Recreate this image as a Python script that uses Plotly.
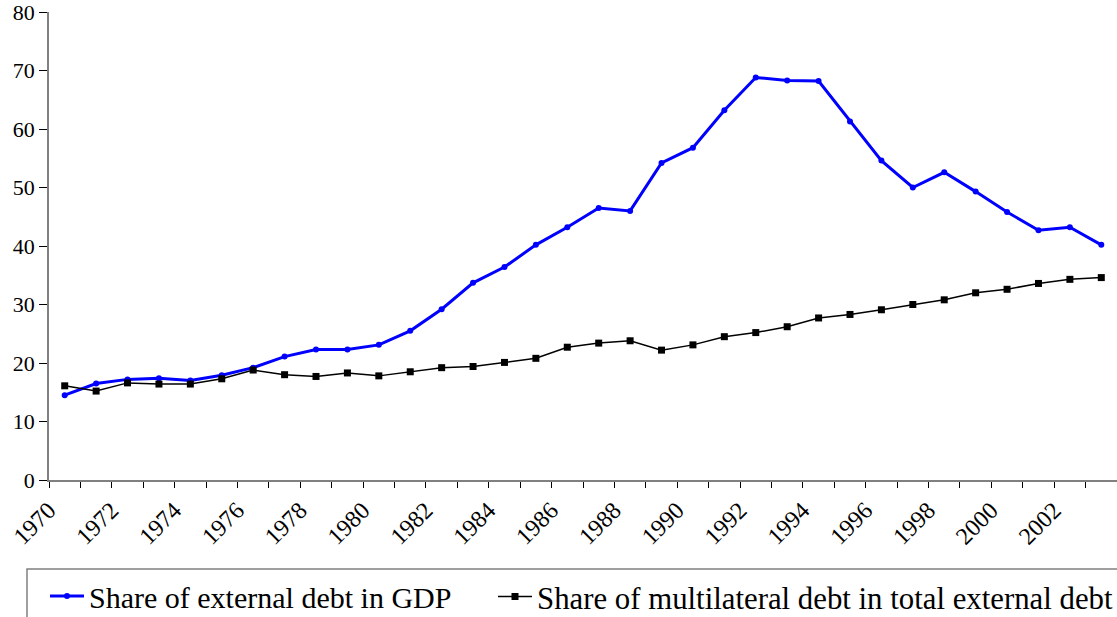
import plotly.graph_objects as go

years = list(range(1970, 2004))
ext_debt_gdp = [14.5, 16.5, 17.2, 17.4, 17.0, 17.9, 19.2, 21.1, 22.3, 22.3, 23.1,
                25.5, 29.2, 33.7, 36.4, 40.2, 43.2, 46.5, 46.0, 54.2, 56.8,
                63.2, 68.8, 68.3, 68.2, 61.3, 54.6, 50.0, 52.6, 49.3, 45.8,
                42.7, 43.2, 40.2]
multi_share = [16.1, 15.2, 16.6, 16.4, 16.4, 17.3, 18.8, 18.0, 17.7, 18.3, 17.8,
               18.5, 19.2, 19.4, 20.1, 20.8, 22.7, 23.4, 23.8, 22.2, 23.1,
               24.5, 25.2, 26.2, 27.7, 28.3, 29.1, 30.0, 30.8, 32.0, 32.6,
               33.6, 34.3, 34.6]
label_years = list(range(1970, 2004, 2))
name1 = "Share of external debt in GDP"
name2 = "Share of multilateral debt in total external debt"

W, H = 1117, 617
L, R, T, B = 49, 0, 12, 137
pw, ph = W - L - R, H - T - B
SERIF = "Liberation Serif, Times New Roman, DejaVu Serif, serif"


def px_x(p):
    return (p - L) / pw


def px_y(p):
    return (T + ph - p) / ph


fig = go.Figure()
fig.add_trace(go.Scatter(x=years, y=ext_debt_gdp, name=name1, mode="lines+markers",
                         line=dict(color="#0000FF", width=3),
                         marker=dict(symbol="circle", size=6, color="#0000FF"),
                         legend="legend"))
fig.add_trace(go.Scatter(x=years, y=multi_share, name=name2, mode="lines+markers",
                         line=dict(color="#000000", width=1.5),
                         marker=dict(symbol="square", size=7, color="#000000"),
                         legend="legend2"))

leg_common = dict(orientation="h", xanchor="left", yanchor="top",
                  borderwidth=0, bgcolor="rgba(0,0,0,0)",
                  itemwidth=34)

fig.update_layout(
    width=W, height=H,
    margin=dict(l=L, r=R, t=T, b=B, autoexpand=False),
    plot_bgcolor="white", paper_bgcolor="white",
    font=dict(family=SERIF, color="black"),
    showlegend=True,
    legend=dict(x=px_x(45), y=px_y(570),
                font=dict(family=SERIF, size=30, color="black"), **leg_common),
    legend2=dict(x=px_x(493), y=px_y(570),
                 font=dict(family=SERIF, size=30.8, color="black"), **leg_common),
    shapes=[dict(type="rect", xref="paper", yref="paper",
                 x0=px_x(27), x1=px_x(W + 20), y0=px_y(569), y1=px_y(H + 20),
                 line=dict(color="#808080", width=1.5), fillcolor="rgba(0,0,0,0)",
                 layer="below")],
)
fig.update_xaxes(range=[1969.5, 2003.5], tickmode="array",
                 tickvals=label_years, ticktext=[str(y) for y in label_years],
                 tickangle=-45, ticks="", showgrid=False, zeroline=False,
                 showline=True, linecolor="#808080", linewidth=1.5,
                 ticklabeloverflow="allow", ticklabelstandoff=5, ticklabelshift=-16,
                 tickfont=dict(family=SERIF, size=24, color="black"),
                 minor=dict(tick0=1969.5, dtick=1, ticks="outside", ticklen=6,
                            tickcolor="#000000", tickwidth=1, showgrid=False))
fig.update_yaxes(range=[0, 80], dtick=10, ticks="outside", ticklen=8,
                 tickcolor="#000000", showgrid=False, zeroline=False,
                 showline=True, linecolor="#808080", linewidth=1.5,
                 ticklabeloverflow="allow",
                 tickfont=dict(family=SERIF, size=22, color="black"))

fig.write_html("out.html", config={"displayModeBar": False},
               post_script="document.body.style.margin='0px';"
                           "document.body.style.overflow='hidden';")
